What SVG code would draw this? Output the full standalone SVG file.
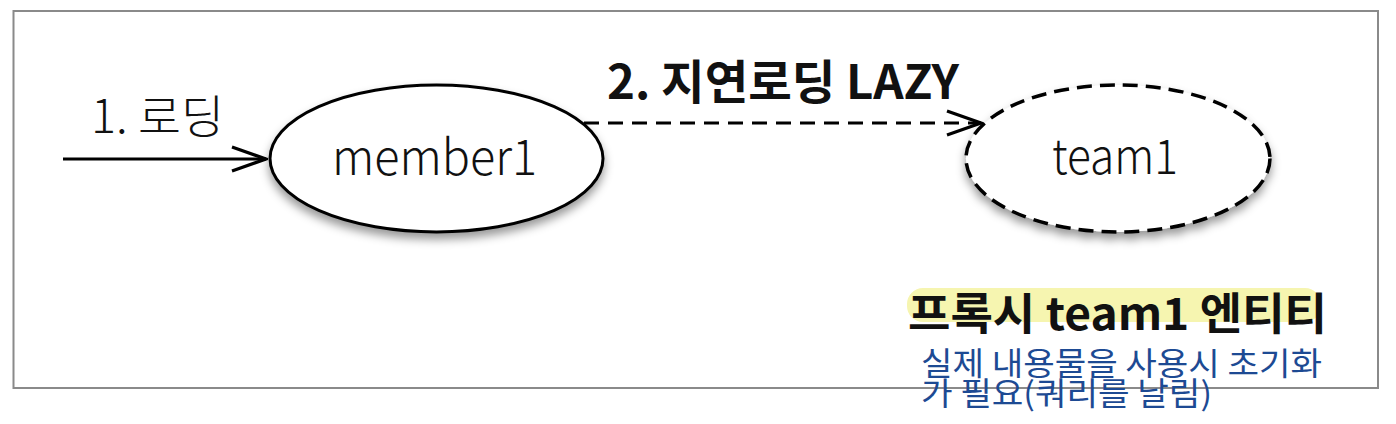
<svg xmlns="http://www.w3.org/2000/svg" width="1396" height="424" viewBox="0 0 1396 424">
  <defs>
    <filter id="shadow" x="-20%" y="-20%" width="140%" height="160%">
      <feDropShadow dx="0" dy="6" stdDeviation="5" flood-color="#000" flood-opacity="0.4"/>
    </filter>
    <marker id="open" viewBox="0 0 40 30" refX="38" refY="15" markerWidth="40" markerHeight="30" markerUnits="userSpaceOnUse" orient="auto">
      <path d="M4,3 L38,15 L4,27" fill="none" stroke="#000" stroke-width="3.2"/>
    </marker>
    <style>
      .thin { font-family: "Noto Sans CJK KR", "Noto Sans", sans-serif; font-weight: 300; fill: #111; }
      .bold { font-family: "Noto Sans CJK KR", "Noto Sans", sans-serif; font-weight: 700; fill: #111; }
      .blue { font-family: "Noto Sans CJK KR", "Noto Sans", sans-serif; font-weight: 400; fill: #1d4a93; font-size: 32px; }
      .edge { fill: none; stroke: #000; stroke-width: 3; }
    </style>
  </defs>
  <rect x="0" y="0" width="1396" height="424" fill="#fff"/>
  <rect x="13.5" y="11" width="1364.5" height="377" fill="none" stroke="#8a8a8a" stroke-width="2"/>

  <g id="connectors">
    <line class="edge" x1="63" y1="159" x2="266" y2="159" marker-end="url(#open)"/>
    <line class="edge" x1="584" y1="123" x2="981" y2="123" stroke-dasharray="15 9" marker-end="url(#open)"/>
    <text class="thin" x="91" y="133" font-size="46" textLength="133" lengthAdjust="spacingAndGlyphs">1. 로딩</text>
    <text class="bold" x="607" y="99" font-size="47" textLength="352" lengthAdjust="spacingAndGlyphs">2. 지연로딩 LAZY</text>
  </g>

  <g id="member1">
    <ellipse cx="436.5" cy="158.5" rx="166.5" ry="73.5" fill="#fff" stroke="#000" stroke-width="3" filter="url(#shadow)"/>
    <text class="thin" x="332" y="175" font-size="49" textLength="205" lengthAdjust="spacingAndGlyphs">member1</text>
  </g>

  <g id="team1">
    <ellipse cx="1118" cy="158.5" rx="152" ry="73.5" fill="#fff" stroke="#000" stroke-width="3.5" stroke-dasharray="15 8" filter="url(#shadow)"/>
    <text class="thin" x="1052" y="174" font-size="48" textLength="126" lengthAdjust="spacingAndGlyphs">team1</text>
  </g>

  <g id="proxy-note">
    <rect x="907" y="288" width="414" height="34" rx="16" fill="#f6f5b0"/>
    <text class="bold" x="908" y="330" font-size="44" textLength="419" lengthAdjust="spacingAndGlyphs">프록시 team1 엔티티</text>
    <text class="blue" x="921" y="375" textLength="401" lengthAdjust="spacingAndGlyphs">실제 내용물을 사용시 초기화</text>
    <text class="blue" x="921" y="405" textLength="291" lengthAdjust="spacingAndGlyphs">가 필요(쿼리를 날림)</text>
  </g>
</svg>
